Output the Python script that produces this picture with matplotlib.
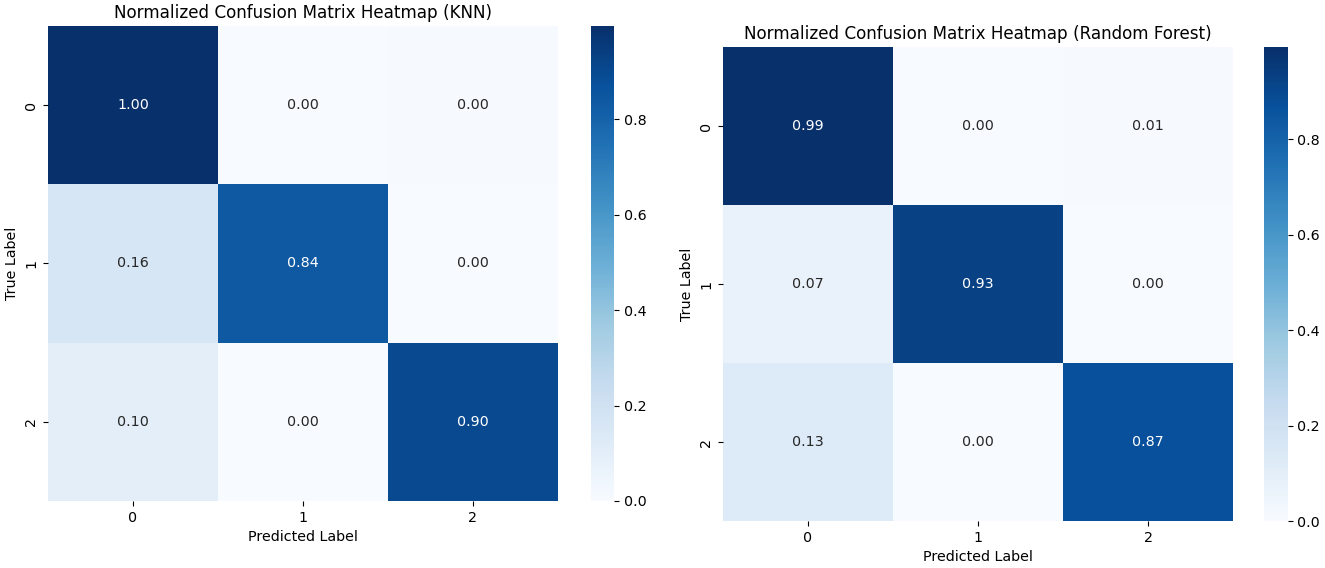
import numpy as np
import matplotlib
matplotlib.use('Agg')
import matplotlib.pyplot as plt
import seaborn as sns

# class labels
labels = ['0', '1', '2']

# normalized confusion matrices
knn_row0 = [0.996, 0.0, 0.004]
knn_row1 = [0.16, 0.84, 0.0]
knn_row2 = [0.10, 0.0, 0.90]

rf_row0 = [0.993, 0.0, 0.007]
rf_row1 = [0.07, 0.93, 0.0]
rf_row2 = [0.13, 0.0, 0.87]

cm_knn = np.array([knn_row0, knn_row1, knn_row2])
cm_rf = np.array([rf_row0, rf_row1, rf_row2])

fs = 10.3
fs_title = 12.1

fig = plt.figure(figsize=(13.25, 5.68), dpi=100)

# left: KNN
ax1 = fig.add_axes([0.0362, 0.118, 0.3849, 0.8363])
cax1 = fig.add_axes([0.4460, 0.118, 0.0177, 0.8363])
sns.heatmap(cm_knn, annot=True, fmt='.2f', cmap='Blues', ax=ax1, cbar_ax=cax1,
            xticklabels=labels, yticklabels=labels, annot_kws={'size': fs})
ax1.set_title('Normalized Confusion Matrix Heatmap (KNN)', fontsize=fs_title)
ax1.set_xlabel('Predicted Label', fontsize=fs)
ax1.set_ylabel('True Label', fontsize=fs)
ax1.tick_params(labelsize=fs)
cax1.tick_params(labelsize=fs)

# right: Random Forest
ax2 = fig.add_axes([0.5457, 0.0827, 0.3849, 0.834])
cax2 = fig.add_axes([0.9540, 0.0827, 0.0177, 0.834])
sns.heatmap(cm_rf, annot=True, fmt='.2f', cmap='Blues', ax=ax2, cbar_ax=cax2,
            xticklabels=labels, yticklabels=labels, annot_kws={'size': fs})
ax2.set_title('Normalized Confusion Matrix Heatmap (Random Forest)', fontsize=fs_title)
ax2.set_xlabel('Predicted Label', fontsize=fs)
ax2.set_ylabel('True Label', fontsize=fs)
ax2.tick_params(labelsize=fs)
cax2.tick_params(labelsize=fs)

fig.savefig('out.png', dpi=100)
